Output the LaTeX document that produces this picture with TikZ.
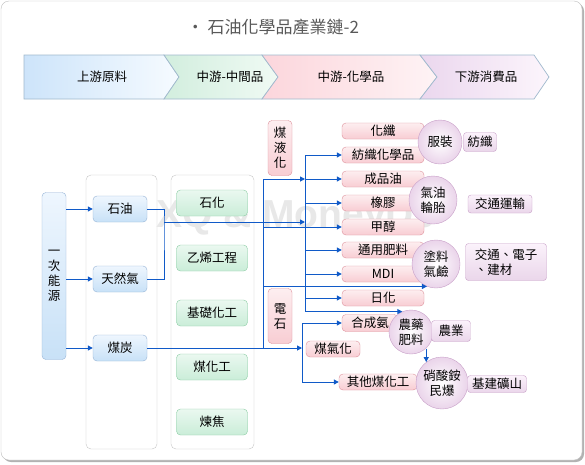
\documentclass[tikz,border=0pt]{standalone}
\usepackage{fontspec}
\setmainfont{Noto Sans CJK TC}
\newfontfamily\markfont{Liberation Sans}
\usetikzlibrary{positioning,arrows.meta,shapes.geometric}

\definecolor{linkblue}{RGB}{16,90,200}
\definecolor{chevline}{RGB}{160,185,205}
\definecolor{blueline}{RGB}{150,180,215}
\definecolor{greenline}{RGB}{140,205,165}
\definecolor{pinkline}{RGB}{222,145,155}
\definecolor{lavline}{RGB}{200,160,200}

\begin{document}
\begin{tikzpicture}[x=1pt,y=-1pt]
    \tikzset{
        every node/.style={font=\fontsize{12.5}{15}\selectfont, inner sep=0pt},
        colstyle/.style={draw=black!22, fill=white, rounded corners=5pt},
        chevstyle/.style={draw=chevline, line width=0.7pt},
        bluestyle/.style={draw=blueline, rounded corners=4pt, top color={rgb,255:red,238;green,246;blue,254}, bottom color={rgb,255:red,200;green,225;blue,247}},
        greenstyle/.style={draw=greenline, rounded corners=4pt, top color={rgb,255:red,234;green,248;blue,240}, bottom color={rgb,255:red,202;green,237;blue,216}},
        pinkstyle/.style={draw=pinkline, rounded corners=4pt, top color={rgb,255:red,253;green,238;blue,240}, bottom color={rgb,255:red,248;green,205;blue,211}},
        roundstyle/.style={circle, draw=lavline, inner color=white, outer color={rgb,255:red,234;green,212;blue,234}},
        endstyle/.style={draw=lavline, rounded corners=3pt, top color={rgb,255:red,251;green,242;blue,251}, bottom color={rgb,255:red,234;green,214;blue,234}},
        linestyle/.style={linkblue, line width=1pt},
        arrowstyle/.style={linkblue, line width=1pt, -{Triangle[length=5pt,width=5pt]}}
    }
    \useasboundingbox (0,0) rectangle (585,464);

    % frame
    \fill[black!30, rounded corners=8pt] (3,3) rectangle (584,462);
    \draw[black!25, fill=white, rounded corners=8pt] (1,1) rectangle (582,460);

    \node[font=\fontsize{17}{20}\selectfont, text=black!65] (title) at (273,27) {• 石油化學品產業鏈-2};

    % stages
    \draw[chevstyle, left color={rgb,255:red,205;green,228;blue,250}, right color={rgb,255:red,246;green,251;blue,255}]
        (24,55) -- (164,55) -- (179,77) -- (164,99) -- (24,99) -- cycle;
    \draw[chevstyle, left color={rgb,255:red,210;green,238;blue,222}, right color={rgb,255:red,240;green,250;blue,244}]
        (164,55) -- (262,55) -- (278,77) -- (262,99) -- (164,99) -- (179,77) -- cycle;
    \draw[chevstyle, left color={rgb,255:red,252;green,214;blue,220}, right color={rgb,255:red,254;green,243;blue,245}]
        (262,55) -- (420,55) -- (437,77) -- (420,99) -- (262,99) -- (278,77) -- cycle;
    \draw[chevstyle, left color={rgb,255:red,235;green,215;blue,238}, right color={rgb,255:red,252;green,245;blue,252}]
        (420,55) -- (534,55) -- (549,77) -- (534,99) -- (420,99) -- (437,77) -- cycle;
    \node (stage1) at (102,77) {上游原料};
    \node (stage2) at (230,77) {中游-中間品};
    \node (stage3) at (351,77) {中游-化學品};
    \node (stage4) at (486,77) {下游消費品};

    \draw[colstyle] (86,175) rectangle (157,449);
    \draw[colstyle] (171,175) rectangle (254,449);
    \node[text=black!9, font=\markfont\bfseries\fontsize{39}{40}\selectfont] (mark) at (296,218) {XQ \& MoneyDJ};

    % sources
    \node[bluestyle, minimum width=24, minimum height=167, align=center] (source) at (54,276) {一\\次\\能\\源};
    \node[bluestyle, minimum width=54, minimum height=26] (oil) at (120,209) {石油};
    \node[bluestyle, minimum width=54, minimum height=26] (gas) at (120,279) {天然氣};
    \node[bluestyle, minimum width=54, minimum height=26] (coal) at (120,348) {煤炭};

    \node[greenstyle, minimum width=71, minimum height=26] (petchem) at (212,203) {石化};
    \node[greenstyle, minimum width=71, minimum height=26] (ethylene) at (212,258) {乙烯工程};
    \node[greenstyle, minimum width=71, minimum height=26] (basic) at (212,313) {基礎化工};
    \node[greenstyle, minimum width=71, minimum height=26] (coalchem) at (212,367) {煤化工};
    \node[greenstyle, minimum width=71, minimum height=26] (coking) at (212,422) {煉焦};

    % chemicals
    \node[pinkstyle, minimum width=24, minimum height=55, align=center] (liquef) at (280,148) {煤\\液\\化};
    \node[pinkstyle, minimum width=24, minimum height=55, align=center] (carbide) at (280,316) {電\\石};
    \node[pinkstyle, minimum width=82, minimum height=16] (fiber) at (383,131) {化纖};
    \node[pinkstyle, minimum width=82, minimum height=16] (texchem) at (383,155) {紡織化學品};
    \node[pinkstyle, minimum width=82, minimum height=16] (fuel) at (383,179) {成品油};
    \node[pinkstyle, minimum width=82, minimum height=16] (rubber) at (383,203) {橡膠};
    \node[pinkstyle, minimum width=82, minimum height=16] (methanol) at (383,227) {甲醇};
    \node[pinkstyle, minimum width=82, minimum height=16] (fertil) at (383,250) {通用肥料};
    \node[pinkstyle, minimum width=82, minimum height=16] (mdi) at (383,274) {MDI};
    \node[pinkstyle, minimum width=82, minimum height=16] (daily) at (383,298) {日化};
    \node[pinkstyle, minimum width=56, minimum height=17] (ammonia) at (370,323) {合成氨};
    \node[pinkstyle, minimum width=54, minimum height=16] (gasify) at (333,349) {煤氣化};
    \node[pinkstyle, minimum width=78, minimum height=16] (othercoal) at (378,382) {其他煤化工};

    % products
    \node[roundstyle, minimum size=44] (apparel) at (440,142) {服裝};
    \node[roundstyle, minimum size=48, align=center] (tyre) at (433,200) {氣油\\輪胎};
    \node[roundstyle, minimum size=48, align=center] (paint) at (436,264) {塗料\\氣鹼};
    \node[roundstyle, minimum size=44, align=center] (agri) at (411,332) {農藥\\肥料};
    \node[roundstyle, minimum size=52, align=center] (blast) at (442,383) {硝酸銨\\民爆};

    \node[endstyle, minimum width=33, minimum height=19] (textile) at (480,142) {紡織};
    \node[endstyle, minimum width=64, minimum height=18] (transport) at (500,204) {交通運輸};
    \node[endstyle, minimum width=81, minimum height=37, align=left] (elec) at (506,262) {交通、電子\\、建材};
    \node[endstyle, minimum width=39, minimum height=21] (farming) at (451,331) {農業};
    \node[endstyle, minimum width=59, minimum height=17] (mining) at (497,384) {基建礦山};

    % links
    \coordinate (merge) at (164,222);
    \coordinate (busA) at (263,179);
    \coordinate (busB) at (305,155);
    \coordinate (busC) at (302,323);

    \foreach \n in {oil,gas,coal}
        \draw[arrowstyle] (source.east |- \n.west) -- (\n.west);
    \draw[linestyle] (oil.east) -| (merge) |- (gas.east);
    \draw[arrowstyle] (merge) -- (merge -| busB);
    \draw[linestyle] (busA) -- (busA |- coal.east);
    \draw[arrowstyle] (coal.east) -- (coal.east -| busC);
    \draw[arrowstyle] (busA) -- (busA -| busB);
    \draw[linestyle] (busB) -- (busB |- agri.113);
    \draw[arrowstyle] (busB |- agri.113) -- (agri.113);
    \foreach \n in {texchem,fuel,rubber,fertil,mdi,daily}
        \draw[arrowstyle] (busB |- \n.west) -- (\n.west);
    \draw[arrowstyle] (busA |- methanol.west) -- (methanol.west);
    \draw[arrowstyle] (busA |- paint.248) -- (paint.248);
    \draw[linestyle] (busC) -- (busC |- othercoal.west);
    \draw[arrowstyle] (busC) -- (ammonia.west);
    \draw[arrowstyle] (busC |- othercoal.west) -- (othercoal.west);
    \draw[arrowstyle] (blast.127 |- agri.-48) -- (blast.127);

\end{tikzpicture}
\end{document}
